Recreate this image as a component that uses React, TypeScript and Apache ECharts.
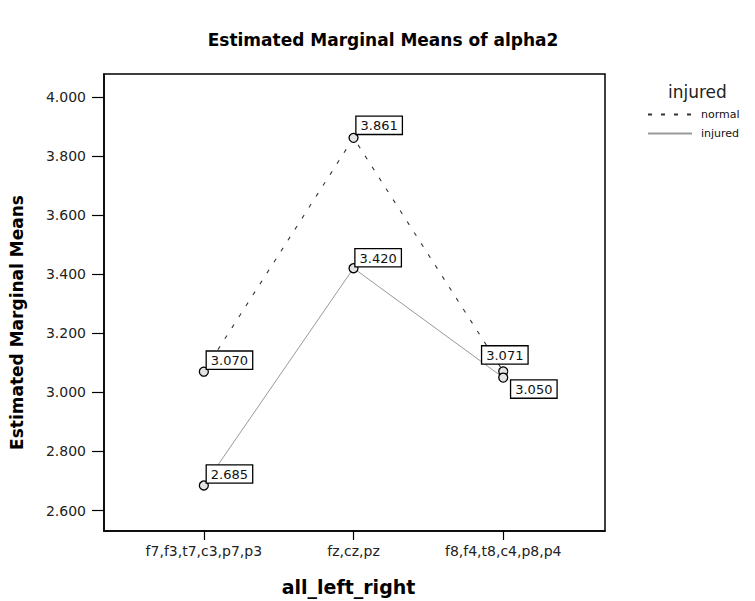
import React, { useEffect, useRef } from "react";
import * as echarts from "echarts";

const categories = ["f7,f3,t7,c3,p7,p3", "fz,cz,pz", "f8,f4,t8,c4,p8,p4"];
const normalValues = [3.07, 3.861, 3.071];
const injuredValues = [2.685, 3.42, 3.05];
const yTicks = [2.6, 2.8, 3.0, 3.2, 3.4, 3.6, 3.8, 4.0];
const seriesNames = ["normal", "injured"];

// label placement (layout only)
const normalLabelOffsets: [number, number, string][] = [
  [3, -3, "bottom"],
  [3, -4, "bottom"],
  [-21, -8, "bottom"],
];
const injuredLabelOffsets: [number, number, string][] = [
  [3, -3, "bottom"],
  [2, -2, "bottom"],
  [8, 3, "top"],
];

const labelBox = {
  show: true,
  position: "inside",
  align: "left",
  formatter: (p: any) => p.value[1].toFixed(3),
  fontFamily: "DejaVu Sans",
  fontSize: 13,
  lineHeight: 14,
  color: "#111",
  backgroundColor: "#fff",
  borderColor: "#000",
  borderWidth: 1.3,
  padding: [2, 4, 1, 4],
};

function buildData(vals: number[], offs: [number, number, string][]) {
  return vals.map((v, i) => ({
    value: [i, v],
    label: { ...labelBox, offset: [offs[i][0], offs[i][1]], verticalAlign: offs[i][2] },
  }));
}

export default function App() {
  const ref = useRef<HTMLDivElement>(null);
  useEffect(() => {
    if (!ref.current) return;
    const chart = echarts.init(ref.current, undefined, { renderer: "svg" });
    chart.setOption({
      animation: false,
      backgroundColor: "#fff",
      title: {
        text: "Estimated Marginal Means of alpha2",
        left: 378,
        textAlign: "center",
        top: 26,
        textStyle: { fontFamily: "DejaVu Sans", fontWeight: "bold", fontSize: 17, color: "#000" },
      },
      legend: {
        data: seriesNames,
        orient: "vertical",
        left: 642,
        top: 104,
        itemWidth: 44,
        itemHeight: 10,
        itemGap: 8,
        textStyle: { fontFamily: "DejaVu Sans", fontSize: 11, color: "#111", padding: [0, 0, 0, 4] },
        itemStyle: { opacity: 0 },
      },
      graphic: [
        {
          type: "text",
          left: 668,
          top: 83,
          style: { text: "injured", fontFamily: "DejaVu Sans", fontSize: 17, fill: "#222" },
        },
      ],
      grid: { left: 98, top: 74, right: 150, bottom: 59, show: true, borderColor: "#000", borderWidth: 1.5 },
      xAxis: {
        type: "value",
        min: -0.667,
        max: 2.68,
        name: "all_left_right",
        nameLocation: "middle",
        nameGap: 46,
        nameTextStyle: {
          fontFamily: "DejaVu Sans",
          fontWeight: "bold",
          fontSize: 19,
          color: "#000",
          padding: [0, 12, 0, 0],
        },
        splitLine: { show: false },
        axisLine: { show: true, onZero: false, lineStyle: { color: "#000", width: 1.5 } },
        axisTick: { show: true, customValues: [0, 1, 2], length: 9, lineStyle: { color: "#000", width: 1.2 } },
        axisLabel: {
          customValues: [0, 1, 2],
          formatter: (v: number) => categories[Math.round(v)] ?? "",
          fontFamily: "DejaVu Sans",
          fontSize: 14,
          color: "#222",
          margin: 13,
        },
      },
      yAxis: {
        type: "value",
        min: 2.531,
        max: 4.077,
        name: "Estimated Marginal Means",
        nameLocation: "middle",
        nameGap: 79,
        nameTextStyle: {
          fontFamily: "DejaVu Sans",
          fontWeight: "bold",
          fontSize: 17,
          color: "#000",
          padding: [0, 40, 0, 0],
        },
        splitLine: { show: false },
        axisLine: { show: true, onZero: false, lineStyle: { color: "#000", width: 1.5 } },
        axisTick: { show: true, customValues: yTicks, length: 12, lineStyle: { color: "#000", width: 1.2 } },
        axisLabel: {
          customValues: yTicks,
          formatter: (v: number) => v.toFixed(3),
          fontFamily: "DejaVu Sans",
          fontSize: 14,
          color: "#222",
          margin: 18,
        },
      },
      series: [
        {
          name: seriesNames[0],
          type: "line",
          data: buildData(normalValues, normalLabelOffsets),
          symbol: "circle",
          symbolSize: 9,
          itemStyle: { color: "#e4e4e4", borderColor: "#000", borderWidth: 1.3 },
          lineStyle: { color: "#333", width: 1.1, type: [4, 9] },
          z: 3,
        },
        {
          name: seriesNames[1],
          type: "line",
          data: buildData(injuredValues, injuredLabelOffsets),
          symbol: "circle",
          symbolSize: 9,
          itemStyle: { color: "#e4e4e4", borderColor: "#000", borderWidth: 1.3 },
          lineStyle: { color: "#999", width: 1, type: "solid" },
          z: 3,
        },
      ],
    });
    return () => chart.dispose();
  }, []);
  return (
    <div
      ref={ref}
      style={{ position: "fixed", left: 0, top: 0, width: 755, height: 601 }}
    />
  );
}
